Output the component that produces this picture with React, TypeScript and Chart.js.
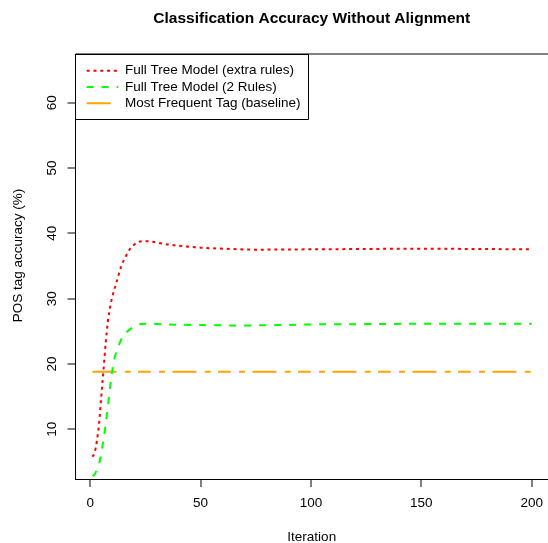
import React, { useEffect, useRef } from "react";
import { Chart, registerables } from "chart.js";

Chart.register(...registerables);

const FONT = "'Liberation Sans', Arial, Helvetica, sans-serif";

const chartTitle = "Classification Accuracy Without Alignment";
const xAxisTitle = "Iteration";
const yAxisTitle = "POS tag accuracy (%)";
const seriesNames = [
  "Full Tree Model (extra rules)",
  "Full Tree Model (2 Rules)",
  "Most Frequent Tag (baseline)",
];
const xTicks = [0, 50, 100, 150, 200];
const yTicks = [10, 20, 30, 40, 50, 60];

const extraIter = [1, 2, 3, 4, 5, 6, 7, 8, 9, 10, 12, 14, 16, 18, 20, 22, 25, 30, 35, 40, 50, 60, 75, 100, 125, 150, 175, 200];
const extraAcc = [5.8, 6.4, 8.2, 10.8, 15.0, 19.0, 23.2, 26.5, 28.7, 30.3, 32.6, 34.9, 36.4, 37.6, 38.3, 38.7, 38.8, 38.6, 38.3, 38.1, 37.8, 37.65, 37.5, 37.55, 37.6, 37.65, 37.6, 37.55];

const twoIter = [1, 2, 3, 4, 5, 6, 7, 8, 9, 10, 11, 12, 14, 16, 18, 20, 23, 28, 35, 50, 70, 85, 100, 125, 150, 175, 200];
const twoAcc = [2.8, 3.1, 3.8, 4.7, 6.3, 8.4, 10.8, 13.5, 16.5, 19.0, 20.8, 22.0, 23.7, 24.7, 25.3, 25.7, 26.1, 26.15, 26.05, 25.95, 25.9, 25.95, 26.05, 26.1, 26.15, 26.15, 26.15];

const baseIter = [1, 200];
const baseAcc = [18.8, 18.8];

const LEGEND_PAD = 2.8;
const LEGEND_FONT = 13.5;
const LEGEND_SWATCH = 31.6;

const framePlugin = {
  id: "frame",
  afterLayout(chart: any) {
    const lg = chart.legend;
    const ca = chart.chartArea;
    if (lg) {
      lg.left = ca.left + 8.35;
      lg.top = ca.top + 7.15;
    }
  },
  afterDraw(chart: any) {
    const ctx = chart.ctx;
    const ca = chart.chartArea;
    const lg = chart.legend;
    ctx.save();
    // top border of plot box
    ctx.strokeStyle = "#000";
    ctx.lineWidth = 1;
    ctx.beginPath();
    ctx.moveTo(ca.left, 54);
    ctx.lineTo(ca.right, 54);
    ctx.stroke();
    if (lg) {
      ctx.font = `${LEGEND_FONT}px ${FONT}`;
      let maxW = 0;
      for (const n of seriesNames) maxW = Math.max(maxW, ctx.measureText(n).width);
      const textX = lg.left + LEGEND_PAD + LEGEND_SWATCH + LEGEND_FONT / 2;
      const right = textX + maxW + 7;
      const lastCenter = lg.top + LEGEND_PAD + LEGEND_FONT / 2 + (seriesNames.length - 1) * (LEGEND_FONT + LEGEND_PAD);
      const bottom = lastCenter + 16;
      const l = Math.round(ca.left - 0.5) + 0.5;
      const t = Math.round(ca.top) + 0.5;
      const r = Math.round(right) + 0.5;
      const b = Math.round(bottom) + 0.5;
      ctx.beginPath();
      ctx.moveTo(l, t);
      ctx.lineTo(r, t);
      ctx.lineTo(r, b);
      ctx.lineTo(l, b);
      ctx.stroke();
    }
    // y axis title, centred where the reference places it
    ctx.fillStyle = "#000";
    ctx.font = `13.5px ${FONT}`;
    ctx.translate(18.5, (ca.top + ca.bottom) / 2 - 11);
    ctx.rotate(-Math.PI / 2);
    ctx.textAlign = "center";
    ctx.textBaseline = "middle";
    ctx.fillText(yAxisTitle, 0, 0);
    ctx.restore();
  },
};

export default function App() {
  const ref = useRef<HTMLCanvasElement | null>(null);

  useEffect(() => {
    if (!ref.current) return;
    const chart = new Chart(ref.current, {
      type: "line",
      data: {
        datasets: [
          {
            label: seriesNames[0],
            data: extraIter.map((x, i) => ({ x, y: extraAcc[i] })),
            borderColor: "#ff0000",
            backgroundColor: "#ff0000",
            borderWidth: 2,
            borderDash: [3, 3.8],
            pointRadius: 0,
            pointStyle: "line",
            cubicInterpolationMode: "monotone",
            fill: false,
          },
          {
            label: seriesNames[1],
            data: twoIter.map((x, i) => ({ x, y: twoAcc[i] })),
            borderColor: "#00ff00",
            backgroundColor: "#00ff00",
            borderWidth: 2,
            borderDash: [7, 8],
            pointRadius: 0,
            pointStyle: "line",
            cubicInterpolationMode: "monotone",
            fill: false,
          },
          {
            label: seriesNames[2],
            data: baseIter.map((x, i) => ({ x, y: baseAcc[i] })),
            borderColor: "#ffa500",
            backgroundColor: "#ffa500",
            borderWidth: 2,
            borderDash: [24, 8.3, 6, 7.3, 12.7, 8.3, 6, 7.4],
            pointRadius: 0,
            pointStyle: "line",
            fill: false,
          },
        ],
      },
      options: {
        animation: false,
        responsive: false,
        devicePixelRatio: 1,
        layout: { padding: 0 },
        plugins: {
          title: {
            display: true,
            text: chartTitle,
            fullSize: false,
            color: "#000",
            font: { family: FONT, size: 15.5, weight: "bold", lineHeight: 1.2 },
            padding: { top: 9.2, bottom: 26.2 },
          },
          legend: {
            position: "chartArea",
            align: "start",
            labels: {
              usePointStyle: true,
              pointStyleWidth: LEGEND_SWATCH,
              padding: LEGEND_PAD,
              color: "#000",
              font: { family: FONT, size: LEGEND_FONT },
              generateLabels: (c: any) => {
                const items = (Chart as any).defaults.plugins.legend.labels.generateLabels(c);
                return items.map((it: any) => {
                  const ds = c.data.datasets[it.datasetIndex];
                  return {
                    ...it,
                    pointStyle: "line",
                    lineDash: ds.borderDash,
                    lineDashOffset: 0,
                    lineWidth: ds.borderWidth,
                    strokeStyle: ds.borderColor,
                    fillStyle: ds.borderColor,
                    lineCap: "butt",
                  };
                });
              },
            },
          },
          tooltip: { enabled: false },
        },
        scales: {
          x: {
            type: "linear",
            min: -6.67,
            max: 207.4,
            afterBuildTicks: (s: any) => {
              s.ticks = xTicks.map((v) => ({ value: v }));
            },
            afterFit: (s: any) => {
              s.height = 64;
              s.paddingLeft = 0;
              s.paddingRight = 0;
            },
            grid: {
              display: true,
              drawOnChartArea: false,
              drawTicks: true,
              tickLength: 8,
              color: "#808080",
              lineWidth: 2,
            },
            border: { display: true, color: "#000", width: 1 },
            ticks: {
              color: "#000",
              font: { family: FONT, size: 13.5 },
              padding: 8.5,
              maxRotation: 0,
              autoSkip: false,
            },
            title: {
              display: true,
              text: xAxisTitle,
              color: "#000",
              font: { family: FONT, size: 13.5, lineHeight: 0.9 },
              padding: { top: 0, bottom: 0 },
            },
          },
          y: {
            type: "linear",
            min: 2.39,
            max: 67.45,
            afterBuildTicks: (s: any) => {
              s.ticks = yTicks.map((v) => ({ value: v }));
            },
            afterFit: (s: any) => {
              s.width = 75.5;
              s.paddingTop = 0;
              s.paddingBottom = 0;
            },
            grid: {
              display: true,
              drawOnChartArea: false,
              drawTicks: true,
              tickLength: 8,
              color: "#808080",
              lineWidth: 2,
            },
            border: { display: true, color: "#000", width: 1 },
            ticks: {
              color: "#000",
              font: { family: FONT, size: 13.5 },
              padding: 7.3,
              minRotation: 90,
              maxRotation: 90,
              crossAlign: "center",
              autoSkip: false,
            },
            title: { display: false, text: yAxisTitle },
          },
        },
      },
      plugins: [framePlugin],
    } as any);
    return () => chart.destroy();
  }, []);

  return (
    <div style={{ position: "absolute", left: 0, top: 0, width: 548, height: 543, background: "#fff" }}>
      <canvas ref={ref} width={548} height={543} style={{ display: "block", width: 548, height: 543 }} />
    </div>
  );
}
